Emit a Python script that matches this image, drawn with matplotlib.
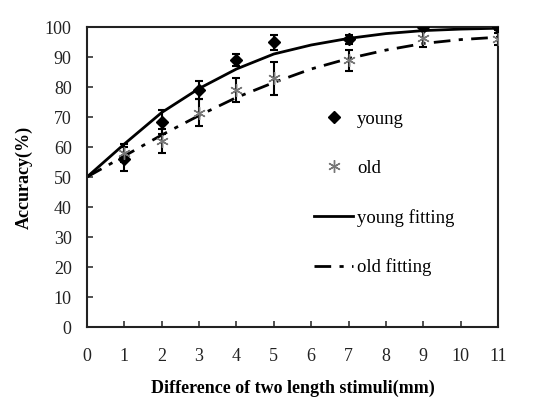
import numpy as np
import matplotlib.pyplot as plt

# data
x_pts = [1, 2, 3, 4, 5, 7, 9, 11]
young = [56, 68.5, 79, 89, 95, 96, 100, 100]
young_err = [4, 4, 3, 2, 2.5, 1.5, 1, 1]
old = [58, 62, 71.5, 79, 83, 89, 96.5, 96]
old_err = [3, 4, 4.5, 4, 5.5, 3.5, 3, 2]

x_fit = [0, 1, 2, 3, 4, 5, 6, 7, 8, 9, 10, 11]
young_fit = [50, 61, 71.5, 79.5, 86, 91, 94, 96.2, 97.8, 98.8, 99.3, 99.6]
old_fit = [50, 57, 64, 70.5, 76.5, 81.5, 86, 89.5, 92.3, 94.5, 95.8, 96.6]

plt.rcParams['font.family'] = ['Liberation Serif', 'DejaVu Serif']

fig = plt.figure(figsize=(5.37, 4.05), dpi=100)
ax = fig.add_axes([87 / 537, 78 / 405, 411 / 537, 300 / 405])

# fitted curves
ax.plot(x_fit, young_fit, color="black", lw=2, label="young fitting", zorder=2)
ax.plot(x_fit, old_fit, color="black", lw=2, dashes=(6, 3, 1.5, 3),
        label="old fitting", zorder=2)

# data with error bars
ax.errorbar(x_pts, young, yerr=young_err, fmt="none", ecolor="black",
            elinewidth=1.5, capsize=3, capthick=1.5, zorder=3)
ax.errorbar(x_pts, old, yerr=old_err, fmt="none", ecolor="black",
            elinewidth=1.5, capsize=3, capthick=1.5, zorder=3)
ax.plot(x_pts, young, "D", color="black", ms=6.5, ls="none",
        label="young", zorder=4)
ax.plot(x_pts, old, marker=(6, 2, 0), color="#777777", ms=9, mew=1,
        ls="none", label="old", zorder=4)

ax.set_xlim(0, 11)
ax.set_ylim(0, 100)
ax.set_xticks(range(0, 12))
ax.set_yticks(range(0, 101, 10))
ax.tick_params(axis="x", direction="in", length=4, width=1.2, pad=15,
               labelsize=13, colors="#333333", labelcolor="#222222")
ax.tick_params(axis="y", direction="in", length=4, width=1.2, pad=11,
               labelsize=13, colors="#333333", labelcolor="#222222")
for s in ax.spines.values():
    s.set_linewidth(1.5)
    s.set_color("#222222")

ax.set_xlabel("Difference of two length stimuli(mm)", fontsize=13,
              fontweight="bold", labelpad=11)
ax.set_ylabel("Accuracy(%)", fontsize=13, fontweight="bold", labelpad=9)

handles, labels = ax.get_legend_handles_labels()
order = [2, 3, 0, 1]
ax.legend([handles[i] for i in order], [labels[i] for i in order],
          loc="upper left", bbox_to_anchor=(0.511, 0.777), frameon=False,
          fontsize=13.5, labelspacing=1.7, handlelength=2.1,
          handletextpad=0.2)

fig.savefig("out.png", dpi=100)
